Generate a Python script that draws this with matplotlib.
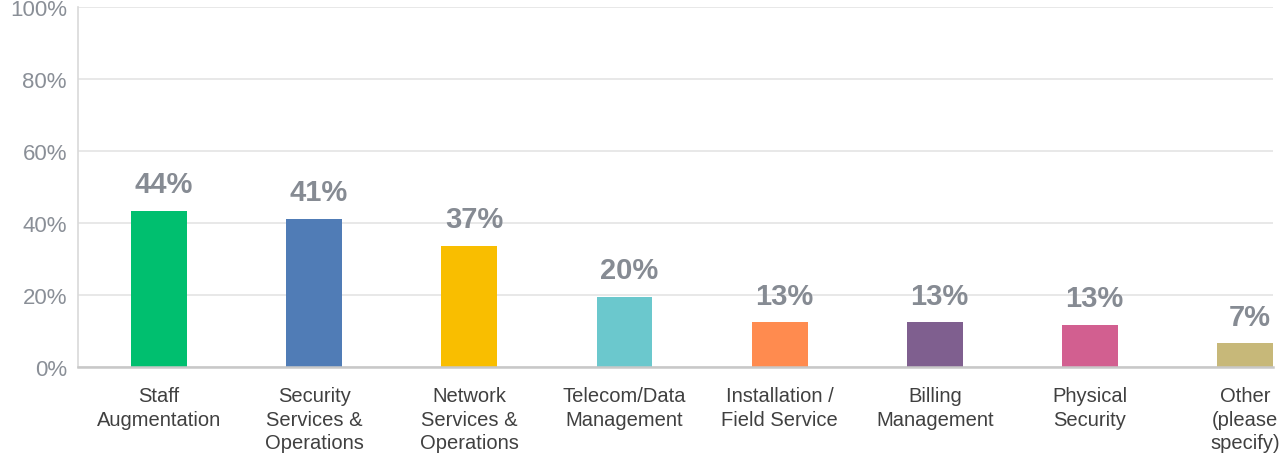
import numpy as np
import matplotlib.pyplot as plt

categorias = [
    "Staff\nAugmentation",
    "Security\nServices &\nOperations",
    "Network\nServices &\nOperations",
    "Telecom/Data\nManagement",
    "Installation /\nField Service",
    "Billing\nManagement",
    "Physical\nSecurity",
    "Other\n(please\nspecify)",
]
valores = [43.3, 41.1, 33.6, 19.5, 12.4, 12.4, 11.8, 6.6]
etiquetas = ["44%", "41%", "37%", "20%", "13%", "13%", "13%", "7%"]
colores = ["#00BF6F", "#507CB6", "#F9BE00", "#6BC8CD",
           "#FF8B4F", "#7F5F8F", "#D25F90", "#C7B879"]
ticks_y = [0, 20, 40, 60, 80, 100]

plt.rcParams["font.family"] = ["Liberation Sans", "DejaVu Sans"]

fig = plt.figure(figsize=(12.86, 4.56), dpi=100)
ax = fig.add_axes([78 / 1286, 88 / 456, (1273 - 78) / 1286, 360 / 456])

x = np.arange(len(categorias))
ax.bar(x, valores, width=0.36, color=colores, zorder=3)

for xi, v, txt in zip(x, valores, etiquetas):
    ax.text(xi + 0.03, v + 7.4, txt, ha="center", va="center",
            fontsize=21, fontweight="bold", color="#868b93", zorder=4)

ax.set_xlim(-0.522, 7.18)
ax.set_ylim(0, 100)
ax.set_yticks(ticks_y)
ax.set_yticklabels([f"{t}%" for t in ticks_y])
ax.set_xticks(x)
ax.set_xticklabels(categorias, fontsize=14.5, color="#404040", linespacing=1.3)

ax.grid(axis="y", color="#e4e4e4", linewidth=1.2, zorder=0)
ax.tick_params(axis="y", length=0, pad=8, labelsize=16, labelcolor="#8a8f97")
ax.tick_params(axis="x", length=0, pad=14)

for lado in ["top", "right"]:
    ax.spines[lado].set_visible(False)
ax.spines["left"].set_color("#d9d9d9")
ax.spines["left"].set_linewidth(1.2)
ax.spines["bottom"].set_color("#c8c8c8")
ax.spines["bottom"].set_linewidth(1.8)
ax.spines["bottom"].set_zorder(5)

fig.savefig("out.png", dpi=100)
